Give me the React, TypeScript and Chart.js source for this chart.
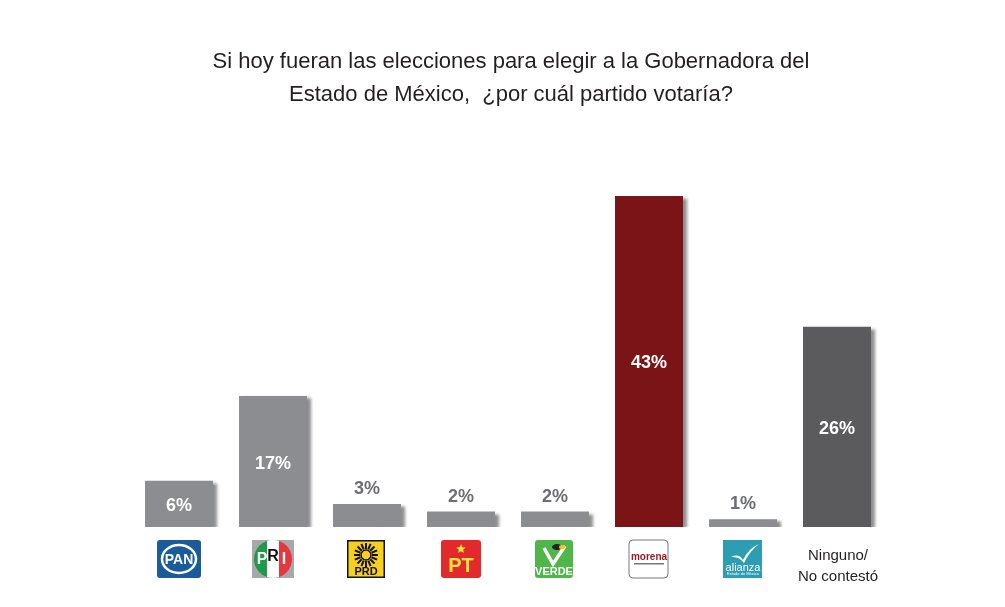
import React, { useEffect, useRef } from "react";
import { Chart, registerables } from "chart.js";

Chart.register(...registerables);

const categories = ["PAN", "PRI", "PRD", "PT", "VERDE", "morena", "alianza", "Ninguno/\nNo contestó"];
const values = [6, 17, 3, 2, 2, 43, 1, 26];
const barColors = ["#8c8d91", "#8c8d91", "#8c8d91", "#8c8d91", "#8c8d91", "#7a1417", "#8c8d91", "#5b5a5c"];
const titleLines = ["Si hoy fueran las elecciones para elegir a la Gobernadora del", "Estado de México,  ¿por cuál partido votaría?"];
const insideThreshold = 5;

function rr(ctx: CanvasRenderingContext2D, x: number, y: number, w: number, h: number, r: number) {
  ctx.beginPath();
  ctx.moveTo(x + r, y);
  ctx.lineTo(x + w - r, y);
  ctx.quadraticCurveTo(x + w, y, x + w, y + r);
  ctx.lineTo(x + w, y + h - r);
  ctx.quadraticCurveTo(x + w, y + h, x + w - r, y + h);
  ctx.lineTo(x + r, y + h);
  ctx.quadraticCurveTo(x, y + h, x, y + h - r);
  ctx.lineTo(x, y + r);
  ctx.quadraticCurveTo(x, y, x + r, y);
  ctx.closePath();
}

function drawLogo(ctx: CanvasRenderingContext2D, key: string, cx: number) {
  const w = 40, h = 38, top = 540;
  const x = cx - w / 2, y = top;
  ctx.save();
  ctx.textAlign = "center";
  ctx.textBaseline = "middle";
  if (key === "PAN") {
    rr(ctx, x - 2, y, w + 4, h, 3);
    ctx.fillStyle = "#1c5b9b";
    ctx.fill();
    ctx.strokeStyle = "#fff";
    ctx.lineWidth = 2.5;
    ctx.beginPath();
    ctx.ellipse(cx, y + h / 2, 17, 14, 0, 0, Math.PI * 2);
    ctx.stroke();
    ctx.fillStyle = "#fff";
    ctx.font = "bold 14px 'Liberation Sans', Arial";
    ctx.fillText("PAN", cx, y + h / 2 + 1);
  } else if (key === "PRI") {
    ctx.fillStyle = "#a7a8ab";
    ctx.fillRect(x - 1, y, w + 2, h);
    ctx.save();
    ctx.beginPath();
    ctx.arc(cx, y + h / 2, 19, 0, Math.PI * 2);
    ctx.clip();
    ctx.fillStyle = "#1f9a48";
    ctx.fillRect(cx - 19, y, 13, h);
    ctx.fillStyle = "#ffffff";
    ctx.fillRect(cx - 6, y, 12, h);
    ctx.fillStyle = "#e8363f";
    ctx.fillRect(cx + 6, y, 13, h);
    ctx.restore();
    ctx.font = "bold 16px 'Liberation Sans', Arial";
    ctx.fillStyle = "#fff";
    ctx.fillText("P", cx - 11, y + 20);
    ctx.fillStyle = "#111";
    ctx.fillText("R", cx, y + 17);
    ctx.fillStyle = "#fff";
    ctx.fillText("I", cx + 11, y + 20);
  } else if (key === "PRD") {
    ctx.fillStyle = "#111";
    ctx.fillRect(x, y, w - 2, h);
    ctx.fillStyle = "#f6cf1f";
    ctx.fillRect(x + 1.5, y + 1.5, w - 5, h - 3);
    const sx = cx - 1, sy = y + 15;
    ctx.strokeStyle = "#111";
    ctx.lineWidth = 2;
    for (let i = 0; i < 16; i++) {
      const a = (i / 16) * Math.PI * 2;
      ctx.beginPath();
      ctx.moveTo(sx + Math.cos(a) * 6, sy + Math.sin(a) * 6);
      ctx.lineTo(sx + Math.cos(a) * 12, sy + Math.sin(a) * 12);
      ctx.stroke();
    }
    ctx.beginPath();
    ctx.arc(sx, sy, 5, 0, Math.PI * 2);
    ctx.lineWidth = 1.5;
    ctx.stroke();
    ctx.fillStyle = "#111";
    ctx.font = "bold 11px 'Liberation Sans', Arial";
    ctx.fillText("PRD", sx, y + 32);
  } else if (key === "PT") {
    rr(ctx, x, y, w, h, 3);
    ctx.fillStyle = "#e2292b";
    ctx.fill();
    ctx.fillStyle = "#f7e53b";
    const stx = cx, sty = y + 9;
    ctx.beginPath();
    for (let i = 0; i < 10; i++) {
      const r = i % 2 === 0 ? 5 : 2.2;
      const a = -Math.PI / 2 + (i * Math.PI) / 5;
      const px = stx + Math.cos(a) * r, py = sty + Math.sin(a) * r;
      if (i === 0) ctx.moveTo(px, py); else ctx.lineTo(px, py);
    }
    ctx.closePath();
    ctx.fill();
    ctx.font = "bold 20px 'Liberation Sans', Arial";
    ctx.fillText("PT", cx, y + 26);
  } else if (key === "VERDE") {
    rr(ctx, x, y, w - 2, h, 3);
    ctx.fillStyle = "#4fb64a";
    ctx.fill();
    ctx.strokeStyle = "#fff";
    ctx.lineWidth = 3.5;
    ctx.beginPath();
    ctx.moveTo(cx - 11, y + 8);
    ctx.lineTo(cx - 2, y + 24);
    ctx.lineTo(cx + 10, y + 6);
    ctx.stroke();
    ctx.fillStyle = "#222";
    ctx.beginPath();
    ctx.ellipse(cx + 2, y + 7, 5, 3, 0, 0, Math.PI * 2);
    ctx.fill();
    ctx.fillStyle = "#f3c31a";
    ctx.beginPath();
    ctx.ellipse(cx + 7, y + 7, 3, 2, 0, 0, Math.PI * 2);
    ctx.fill();
    ctx.fillStyle = "#fff";
    ctx.font = "bold 11px 'Liberation Sans', Arial";
    ctx.fillText("VERDE", cx - 1, y + 32);
  } else if (key === "morena") {
    rr(ctx, x, y, w - 1, h, 4);
    ctx.fillStyle = "#fff";
    ctx.fill();
    ctx.strokeStyle = "#555";
    ctx.lineWidth = 0.8;
    ctx.stroke();
    ctx.fillStyle = "#9b1c21";
    ctx.font = "bold 10px 'Liberation Sans', Arial";
    ctx.fillText("morena", cx, y + 17);
    ctx.fillStyle = "#777";
    ctx.fillRect(cx - 15, y + 23, 30, 1.5);
  } else if (key === "alianza") {
    ctx.fillStyle = "#2c9db3";
    ctx.fillRect(x, y, w - 1, h);
    ctx.fillStyle = "#fff";
    ctx.beginPath();
    ctx.moveTo(cx - 12, y + 17);
    ctx.quadraticCurveTo(cx - 4, y + 13, cx, y + 20);
    ctx.quadraticCurveTo(cx + 6, y + 8, cx + 16, y + 4);
    ctx.quadraticCurveTo(cx + 6, y + 12, cx + 1, y + 23);
    ctx.quadraticCurveTo(cx - 4, y + 16, cx - 12, y + 17);
    ctx.fill();
    ctx.font = "11px 'Liberation Sans', Arial";
    ctx.fillText("alianza", cx, y + 28);
    ctx.font = "4px 'Liberation Sans', Arial";
    ctx.fillText("Estado de México", cx, y + 34);
  }
  ctx.restore();
}

const customPlugin = {
  id: "custom",
  beforeDatasetDraw(chart: any) {
    const ctx = chart.ctx;
    ctx.save();
    ctx.shadowColor = "rgba(0,0,0,0.45)";
    ctx.shadowOffsetX = 4;
    ctx.shadowOffsetY = 2;
    ctx.shadowBlur = 3;
  },
  afterDatasetDraw(chart: any) {
    chart.ctx.restore();
  },
  afterDraw(chart: any) {
    const ctx = chart.ctx;
    const xs = chart.scales.x;
    const meta = chart.getDatasetMeta(0);
    ctx.save();
    ctx.fillStyle = "#231f20";
    ctx.font = "22px 'Liberation Sans', Arial";
    ctx.textAlign = "center";
    ctx.textBaseline = "middle";
    ctx.fillText(titleLines[0], 511, 62);
    ctx.fillText(titleLines[1], 511, 95);
    meta.data.forEach((bar: any, i: number) => {
      const v = values[i];
      ctx.font = "bold 18px 'Liberation Sans', Arial";
      if (v > insideThreshold) {
        ctx.fillStyle = "#ffffff";
        ctx.fillText(v + "%", bar.x, (bar.y + bar.base) / 2 + 2);
      } else {
        ctx.fillStyle = "#6d6e71";
        ctx.fillText(v + "%", bar.x, bar.y - 15);
      }
    });
    categories.forEach((c, i) => {
      const cx = xs.getPixelForValue(i);
      if (c.indexOf("\n") >= 0) {
        const parts = c.split("\n");
        ctx.fillStyle = "#231f20";
        ctx.font = "15px 'Liberation Sans', Arial";
        ctx.fillText(parts[0], cx + 1, 556);
        ctx.fillText(parts[1], cx + 1, 577);
      } else {
        drawLogo(ctx, c, cx);
      }
    });
    ctx.restore();
  },
};

export default function App() {
  const ref = useRef<HTMLCanvasElement>(null);
  useEffect(() => {
    document.body.style.margin = "0";
    const chart = new Chart(ref.current!, {
      type: "bar",
      data: {
        labels: categories,
        datasets: [
          {
            data: values,
            backgroundColor: barColors,
            borderWidth: 0,
            barPercentage: 0.723,
            categoryPercentage: 1,
          },
        ],
      },
      options: {
        animation: false,
        responsive: false,
        maintainAspectRatio: false,
        layout: { padding: { top: 142, bottom: 80, left: 132, right: 121 } },
        plugins: { legend: { display: false }, tooltip: { enabled: false }, title: { display: false } },
        scales: {
          x: { display: false },
          y: { display: false, min: 0, max: 50 },
        },
      },
      plugins: [customPlugin],
    });
    return () => chart.destroy();
  }, []);
  return (
    <div style={{ position: "fixed", left: 0, top: 0, width: 1005, height: 607, background: "#fff" }}>
      <canvas ref={ref} width={1005} height={607} style={{ display: "block" }} />
    </div>
  );
}
